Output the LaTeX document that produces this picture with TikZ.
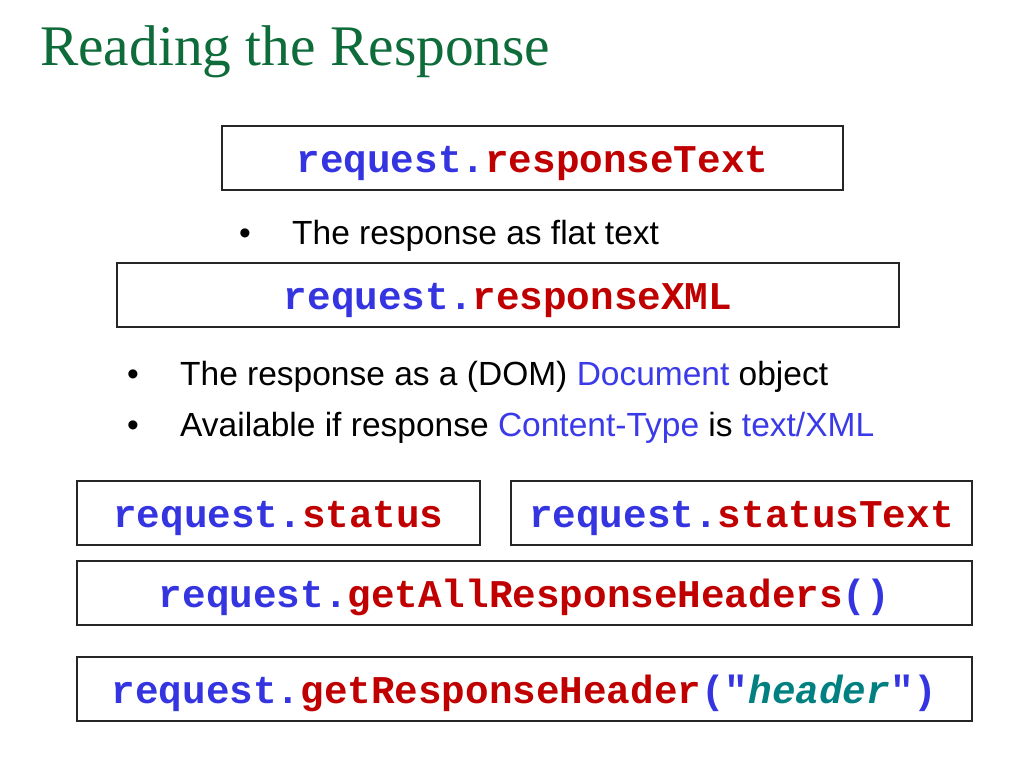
\documentclass[tikz,border=0pt]{standalone}
\usepackage{fontspec}
\setmainfont{Liberation Serif}
\newfontfamily\codefont{Liberation Mono}
\newfontfamily\armfont{Liberation Sans}
\definecolor{titlegreen}{HTML}{0E6B3A}
\definecolor{codeblue}{HTML}{3434E0}
\definecolor{codered}{HTML}{C00000}
\definecolor{codeteal}{HTML}{008080}
\definecolor{txtblue}{HTML}{3A3AE8}
\newcommand{\reqobj}{\textcolor{codeblue}{request.}}
\begin{document}
\begin{tikzpicture}[x=1pt,y=-1pt,
  codebox/.style={draw=black!85,line width=1.1pt,inner xsep=0pt,inner ysep=0pt,
    text height=46pt,text depth=18pt,
    font=\codefont\bfseries\fontsize{39.3}{44}\selectfont},
  bullettext/.style={anchor=base west,inner sep=0pt,font=\armfont\fontsize{33.5}{38}\selectfont},
  bulletdot/.style={anchor=base,inner sep=0pt,font=\armfont\fontsize{33.5}{38}\selectfont}]
\useasboundingbox[fill=white] (0,0) rectangle (1024,768);
\node[anchor=base west,inner sep=0pt,text=titlegreen,font=\fontsize{57.4}{62}\selectfont] (title) at (40,66) {Reading the Response};
% boxes
\node[codebox,minimum width=621pt] (b1) at (532.5,158) {\reqobj\textcolor{codered}{responseText}};
\node[bulletdot] (d1) at (245,244) {•};
\node[bullettext] (t1) at (292,244) {The response as flat text};
\node[codebox,minimum width=782pt] (b2) at (508,295) {\reqobj\textcolor{codered}{responseXML}};
\node[bulletdot] (d2) at (133,385) {•};
\node[bullettext] (t2) at (180,385) {The response as a (DOM) \textcolor{txtblue}{Document} object};
\node[bulletdot] (d3) at (133,436) {•};
\node[bullettext] (t3) at (180,436) {Available if response \textcolor{txtblue}{Content-Type} is \textcolor{txtblue}{text/XML}};
\node[codebox,minimum width=403pt] (b3) at (278.5,513) {\reqobj\textcolor{codered}{status}};
\node[codebox,minimum width=461pt] (b4) at (741.5,513) {\reqobj\textcolor{codered}{statusText}};
\node[codebox,minimum width=895pt] (b5) at (524.5,593) {\reqobj\textcolor{codered}{getAllResponseHeaders}\textcolor{codeblue}{()}};
\node[codebox,minimum width=895pt] (b6) at (524.5,689) {\reqobj\textcolor{codered}{getResponseHeader}\textcolor{codeblue}{("}\textcolor{codeteal}{\itshape header}\textcolor{codeblue}{")}};
\end{tikzpicture}
\end{document}
